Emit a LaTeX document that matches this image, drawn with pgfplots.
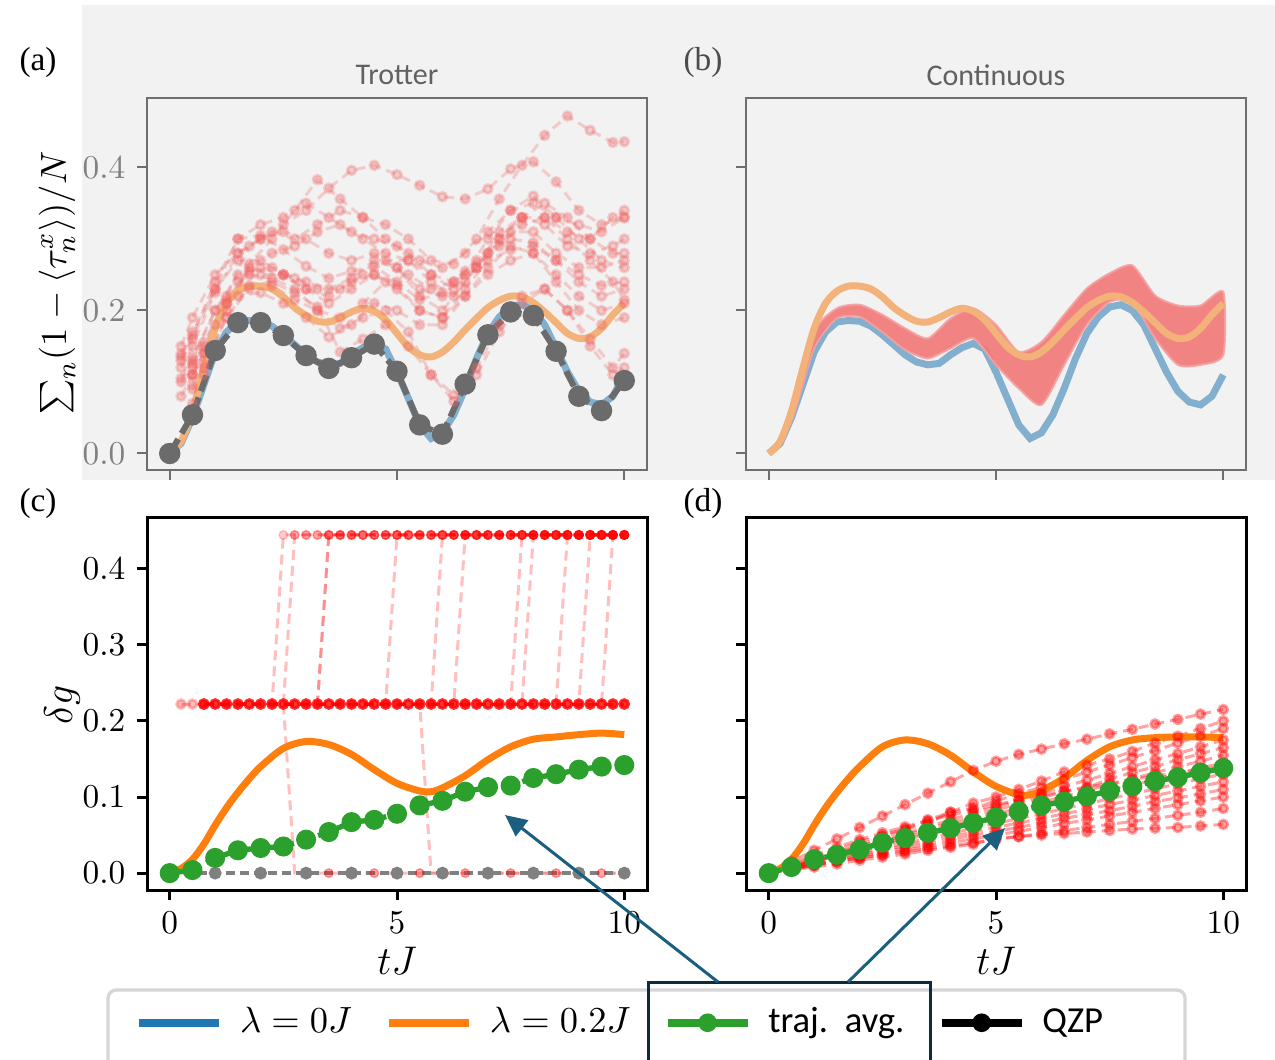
\documentclass[border=0pt]{standalone}
\usepackage{pgfplots}
\pgfplotsset{compat=1.18}
\usepackage{pgfplotstable}
\usepackage{fontspec}
\usetikzlibrary{arrows.meta}
\newfontfamily\carlito{Carlito}
\newfontfamily\lserif{Liberation Serif}

\definecolor{bgray}{HTML}{F2F2F2}
\definecolor{framegray}{HTML}{6E6E6E}
\definecolor{ticktxt}{HTML}{808080}
\definecolor{blueA}{HTML}{82AFCD}
\definecolor{orangeA}{HTML}{F3B27A}
\definecolor{pinkA}{HTML}{F06464}
\definecolor{bandred}{HTML}{F27878}
\definecolor{qzpA}{HTML}{6B6B6B}
\definecolor{mplblue}{HTML}{1F77B4}
\definecolor{mplorange}{HTML}{FF7F0E}
\definecolor{mplgreen}{HTML}{2CA02C}
\definecolor{qzpgray}{HTML}{808080}
\definecolor{arrowblue}{HTML}{1A5E80}
\definecolor{boxnavy}{HTML}{0D2B3E}
\definecolor{leggray}{HTML}{D6D6D6}

% lambda=0 and lambda=0.2 curves, top row
\pgfplotstableread{
x bl or
0 0 0
0.25 0.014 0.017
0.5 0.050 0.059
0.75 0.096 0.119
1 0.142 0.175
1.25 0.170 0.210
1.5 0.184 0.227
1.75 0.186 0.234
2 0.185 0.234
2.25 0.178 0.230
2.5 0.166 0.219
2.75 0.152 0.204
3 0.138 0.193
3.25 0.128 0.185
3.5 0.124 0.184
3.75 0.126 0.190
4 0.138 0.198
4.25 0.148 0.203
4.5 0.154 0.199
4.75 0.146 0.187
5 0.114 0.168
5.25 0.077 0.149
5.5 0.040 0.138
5.75 0.021 0.135
6 0.029 0.142
6.25 0.054 0.156
6.5 0.091 0.173
6.75 0.133 0.189
7 0.168 0.204
7.25 0.191 0.214
7.5 0.205 0.220
7.75 0.208 0.219
8 0.200 0.211
8.25 0.180 0.198
8.5 0.147 0.183
8.75 0.114 0.168
9 0.087 0.161
9.25 0.072 0.163
9.5 0.068 0.175
9.75 0.080 0.194
10 0.110 0.210
}\topcurves

% Trotter trajectories (odd ones sampled on x, even ones on xb)
\pgfplotstableread{
x xb t1 t2 t3 t4 t5 t6 t7 t8 t9 t10 t11 t12 t13 t14 t15
0.25 0.5 .139 .070 .150 .110 .130 .120 .100 .090 .080 .095 .120 .110 .105 .125 .135
0.5 0.75 .170 .110 .190 .140 .160 .150 .130 .120 .110 .125 .150 .140 .135 .155 .165
1 1.25 .230 .200 .250 .210 .230 .220 .200 .190 .180 .190 .225 .210 .200 .215 .240
1.5 1.75 .300 .265 .280 .250 .270 .290 .240 .230 .220 .235 .280 .260 .250 .255 .300
2 2.25 .305 .300 .300 .245 .270 .310 .250 .235 .225 .240 .300 .280 .260 .260 .320
2.5 2.75 .285 .340 .320 .230 .250 .300 .250 .215 .210 .225 .310 .290 .250 .245 .330
3 3.25 .262 .383 .340 .200 .230 .320 .240 .200 .190 .205 .300 .310 .230 .230 .350
3.5 3.75 .245 .356 .371 .175 .220 .340 .230 .190 .163 .142 .280 .320 .210 .230 .330
4 4.25 .255 .330 .396 .190 .240 .330 .245 .210 .180 .160 .270 .300 .230 .250 .310
4.5 4.75 .262 .320 .403 .200 .250 .300 .270 .240 .210 .180 .280 .280 .250 .270 .300
5 5.25 .240 .300 .390 .170 .235 .280 .260 .250 .200 .150 .260 .270 .230 .270 .290
5.5 5.75 .215 .270 .375 .110 .200 .250 .220 .230 .180 .110 .230 .240 .200 .250 .270
6 6.25 .225 .265 .359 .082 .190 .240 .200 .240 .180 .073 .220 .220 .190 .230 .260
6.5 6.75 .255 .300 .356 .120 .230 .270 .240 .260 .220 .110 .250 .260 .220 .260 .280
7 7.25 .280 .356 .370 .180 .270 .300 .280 .290 .250 .170 .300 .310 .260 .300 .310
7.5 7.75 .300 .403 .398 .220 .285 .330 .310 .320 .270 .210 .340 .330 .290 .330 .340
8 8.25 .295 .445 .408 .230 .290 .320 .310 .330 .280 .230 .360 .330 .280 .350 .350
8.5 8.75 .270 .472 .380 .200 .270 .290 .280 .300 .250 .200 .330 .310 .240 .330 .330
9 9.25 .250 .452 .340 .150 .240 .280 .260 .270 .220 .160 .300 .300 .200 .300 .320
9.5 9.75 .235 .435 .320 .110 .220 .290 .260 .240 .200 .120 .270 .330 .180 .280 .310
10 10 .240 .436 .330 .120 .230 .300 .270 .215 .210 .140 .260 .340 .190 .280 .330
}\trotter

% delta g levels, panel (c)
\pgfplotstableread{
x lo hi zr
0.25 0.2222 0.4444 0
0.5 0.2222 0.4444 0
0.75 0.2222 0.4444 0
1 0.2222 0.4444 0
1.25 0.2222 0.4444 0
1.5 0.2222 0.4444 0
1.75 0.2222 0.4444 0
2 0.2222 0.4444 0
2.25 0.2222 0.4444 0
2.5 0.2222 0.4444 0
2.75 0.2222 0.4444 0
3 0.2222 0.4444 0
3.25 0.2222 0.4444 0
3.5 0.2222 0.4444 0
3.75 0.2222 0.4444 0
4 0.2222 0.4444 0
4.25 0.2222 0.4444 0
4.5 0.2222 0.4444 0
4.75 0.2222 0.4444 0
5 0.2222 0.4444 0
5.25 0.2222 0.4444 0
5.5 0.2222 0.4444 0
5.75 0.2222 0.4444 0
6 0.2222 0.4444 0
6.25 0.2222 0.4444 0
6.5 0.2222 0.4444 0
6.75 0.2222 0.4444 0
7 0.2222 0.4444 0
7.25 0.2222 0.4444 0
7.5 0.2222 0.4444 0
7.75 0.2222 0.4444 0
8 0.2222 0.4444 0
8.25 0.2222 0.4444 0
8.5 0.2222 0.4444 0
8.75 0.2222 0.4444 0
9 0.2222 0.4444 0
9.25 0.2222 0.4444 0
9.5 0.2222 0.4444 0
9.75 0.2222 0.4444 0
10 0.2222 0.4444 0
}\levels

% continuous trajectories, panel (d)
\pgfplotstableread{
x d1 d2 d3 d4 d5 d6 d7 d8 d9 d10 d11 d12 d13 d14
0 0 0 0 0 0 0 0 0 0 0 0 0 0 0
0.5 .015 .010 .008 .009 .008 .008 .007 .012 .007 .006 .005 .005 .006 .004
1 .030 .021 .018 .017 .016 .016 .015 .024 .013 .012 .011 .010 .011 .008
1.5 .045 .030 .027 .026 .025 .023 .022 .034 .020 .018 .016 .015 .016 .012
2 .060 .041 .036 .035 .033 .031 .029 .044 .026 .024 .022 .020 .020 .017
2.5 .075 .050 .048 .044 .041 .039 .036 .053 .033 .030 .028 .025 .024 .021
3 .090 .058 .057 .052 .050 .047 .044 .061 .039 .036 .033 .030 .028 .025
3.5 .105 .070 .066 .061 .058 .054 .051 .069 .046 .042 .038 .035 .032 .030
4 .120 .080 .080 .070 .066 .062 .058 .076 .052 .048 .044 .040 .036 .034
4.5 .135 .092 .085 .079 .074 .070 .065 .083 .059 .054 .050 .045 .040 .038
5 .147 .100 .095 .087 .083 .078 .073 .090 .065 .060 .055 .050 .044 .046
5.5 .156 .110 .104 .096 .091 .085 .080 .096 .072 .066 .060 .055 .048 .048
6 .163 .121 .113 .105 .099 .093 .087 .102 .078 .072 .066 .060 .052 .050
6.5 .170 .133 .123 .114 .107 .101 .094 .108 .085 .078 .072 .065 .056 .052
7 .176 .142 .133 .122 .112 .109 .102 .113 .091 .084 .077 .070 .060 .054
7.5 .183 .150 .142 .131 .124 .116 .109 .118 .098 .090 .082 .075 .064 .056
8 .189 .160 .152 .140 .132 .124 .116 .123 .104 .096 .088 .080 .068 .058
8.5 .196 .171 .161 .149 .140 .132 .123 .128 .111 .102 .094 .085 .072 .059
9 .202 .180 .171 .157 .149 .140 .131 .132 .117 .108 .099 .090 .076 .060
9.5 .209 .190 .180 .166 .157 .147 .138 .136 .124 .114 .104 .095 .080 .062
10 .215 .200 .190 .175 .165 .155 .145 .140 .130 .120 .110 .100 .085 .064
}\contin

\pgfplotsset{
  panel/.style={scale only axis, width=150pt, height=111.6pt,
    xmin=-0.5, xmax=10.5, xtick={0,5,10},
    tick align=outside, tick pos=left, major tick length=3pt,
    ticklabel style={font=\fontsize{9.8}{11}\selectfont},
    yticklabel style={/pgf/number format/fixed,
      /pgf/number format/fixed zerofill, /pgf/number format/precision=1}},
  toppanel/.style={panel, ymin=-0.0231, ymax=0.4972, ytick={0,0.2,0.4},
    axis background/.style={fill=bgray},
    axis line style={framegray, line width=0.6pt},
    tick style={framegray, line width=0.6pt},
    ticklabel style={text=ticktxt}, xticklabels={}},
  botpanel/.style={panel, ymin=-0.0222, ymax=0.4667,
    ytick={0,0.1,0.2,0.3,0.4},
    axis line style={black, line width=0.9pt},
    tick style={black, line width=0.9pt}},
  traj/.style={pinkA, opacity=0.28, line width=0.9pt,
    dash pattern=on 3pt off 1.8pt, mark=*, mark size=1.3pt,
    mark options={solid}},
  jumpline/.style={red, opacity=0.25, line width=0.9pt,
    dash pattern=on 3pt off 1.8pt},
  jumpmarks/.style={red, opacity=0.2, only marks, mark=*, mark size=1.3pt},
  dtraj/.style={red, opacity=0.36, line width=0.9pt,
    dash pattern=on 3pt off 1.8pt, mark=*, mark size=1.3pt,
    mark options={solid}},
}

\newcommand{\jumpup}[2]{%
  \addplot[jumpline] coordinates {(0.75,0.2222) (#1,0.2222) (#2,0.4444) (10,0.4444)};
  \addplot[jumpmarks] table[x=x, y=hi, restrict x to domain=#2:10] {\levels};
}

\begin{document}
\begin{tikzpicture}
\useasboundingbox (0pt,0pt) rectangle (382.5pt,-318pt);
\begin{scope}[x=0.3pt, y=-0.3pt]
  \fill[bgray] (82,5) rectangle (1275,480);
\end{scope}

% (a) Trotter
\begin{axis}[toppanel, at={(44.1pt,-141pt)}, anchor=south west]
  \pgfplotsinvokeforeach{1,3,...,15}{
    \addplot[traj] table[x=x, y=t#1] {\trotter};
  }
  \pgfplotsinvokeforeach{2,4,...,14}{
    \addplot[traj] table[x=xb, y=t#1] {\trotter};
  }
  \addplot[blueA, line width=2.1pt] table[x=x, y=bl] {\topcurves};
  \addplot[orangeA, line width=2.1pt, smooth] table[x=x, y=or] {\topcurves};
  \addplot[qzpA, line width=1.8pt, dash pattern=on 5pt off 2pt, mark=*,
    mark size=2.3pt, mark options={solid}] coordinates {
    (0,0) (0.5,0.054) (1,0.144) (1.5,0.183) (2,0.183) (2.5,0.165)
    (3,0.137) (3.5,0.119) (4,0.134) (4.5,0.153) (5,0.115) (5.5,0.040)
    (6,0.027) (6.5,0.097) (7,0.166) (7.5,0.198) (8,0.193) (8.5,0.143)
    (9,0.080) (9.5,0.060) (10,0.102)};
\end{axis}

% (b) Continuous
\begin{axis}[toppanel, at={(223.8pt,-141pt)}, anchor=south west, yticklabels={}]
  \addplot[blueA, line width=2.1pt] table[x=x, y=bl] {\topcurves};
  \addplot[fill=bandred, draw=bandred!70, line width=0.6pt, opacity=0.9,
    smooth, tension=0.4] coordinates {
    (0,0) (0.5,0.050) (1,0.170) (1.5,0.203) (2,0.208) (2.5,0.194) (3,0.175)
    (3.5,0.161) (4,0.189) (4.5,0.203) (5,0.180) (5.5,0.142) (6,0.156)
    (6.5,0.194) (7,0.231) (7.5,0.252) (8,0.263) (8.5,0.221) (9,0.207)
    (9.5,0.207) (10,0.226)
    (10,0.138) (9.5,0.124) (9,0.124) (8.5,0.161) (8,0.212) (7.5,0.212)
    (7,0.180) (6.5,0.124) (6,0.068) (5.5,0.091) (5,0.124) (4.5,0.161)
    (4,0.147) (3.5,0.133) (3,0.145) (2.5,0.170) (2,0.191) (1.5,0.189)
    (1,0.147) (0.5,0.045) (0,0)} -- cycle;
  \addplot[orangeA, line width=2.1pt, smooth] table[x=x, y=or] {\topcurves};
\end{axis}

% (c) delta g, Trotter
\begin{axis}[botpanel, at={(44.1pt,-267pt)}, anchor=south west]
  \jumpup{2.25}{2.5}
  \jumpup{2.5}{2.75}
  \jumpup{3.25}{3.5}
  \jumpup{3.25}{3.5}
  \jumpup{4.75}{5}
  \jumpup{5.75}{6}
  \jumpup{6.25}{6.5}
  \jumpup{7.5}{7.75}
  \jumpup{7.75}{8}
  \jumpup{8.5}{8.75}
  \jumpup{9}{9.25}
  \jumpup{9.5}{9.75}
  \addplot[jumpline] coordinates {(0.75,0.2222) (2.5,0.2222) (2.75,0) (10,0)};
  \addplot[jumpline] coordinates {(0.75,0.2222) (5.5,0.2222) (5.75,0) (10,0)};
  \addplot[jumpmarks, opacity=0.35] coordinates {
    (3.5,0) (4.5,0) (5.5,0) (6.5,0) (7.5,0) (8.5,0) (9.5,0)};
  \addplot[red, opacity=0.25, line width=0.9pt, dash pattern=on 3pt off 1.8pt,
    mark=*, mark size=1.3pt, mark options={solid}]
    table[x=x, y=lo, restrict x to domain=0.25:0.75] {\levels};
  \addplot[red, opacity=0.8, line width=0.9pt, dash pattern=on 3pt off 1.8pt,
    mark=*, mark size=1.3pt, mark options={solid}]
    table[x=x, y=lo, restrict x to domain=0.75:10] {\levels};
  \addplot[qzpgray, line width=1.2pt, dash pattern=on 2.8pt off 1.4pt, mark=*,
    mark size=1.3pt, mark options={solid}] coordinates {
    (0,0) (1,0) (2,0) (3,0) (4,0) (5,0) (6,0) (7,0) (8,0) (9,0) (10,0)};
  \addplot[mplorange, line width=2.1pt, smooth] coordinates {
    (0,0) (0.25,0.006) (0.5,0.018) (0.75,0.038) (1,0.063) (1.25,0.086)
    (1.5,0.106) (1.75,0.124) (2,0.140) (2.5,0.164) (3,0.173) (3.5,0.169)
    (4,0.156) (4.5,0.136) (5,0.118) (5.5,0.108) (5.75,0.107) (6,0.112)
    (6.5,0.128) (7,0.149) (7.5,0.166) (8,0.176) (8.5,0.179) (9,0.182)
    (9.5,0.184) (10,0.182)};
  \addplot[mplgreen, line width=1.6pt, dash pattern=on 4pt off 1.8pt, mark=*,
    mark size=2.2pt, mark options={solid}] coordinates {
    (0,0) (0.5,0.004) (1,0.020) (1.5,0.030) (2,0.033) (2.5,0.035) (3,0.044)
    (3.5,0.054) (4,0.067) (4.5,0.070) (5,0.078) (5.5,0.089) (6,0.095)
    (6.5,0.107) (7,0.113) (7.5,0.115) (8,0.125) (8.5,0.130) (9,0.136)
    (9.5,0.140) (10,0.142)};
\end{axis}

% (d) delta g, continuous
\begin{axis}[botpanel, at={(223.8pt,-267pt)}, anchor=south west, yticklabels={}]
  \pgfplotsinvokeforeach{1,...,14}{
    \addplot[dtraj] table[x=x, y=d#1] {\contin};
  }
  \addplot[mplorange, line width=2.1pt, smooth] coordinates {
    (0,0) (0.25,0.006) (0.5,0.018) (0.75,0.038) (1,0.063) (1.25,0.086)
    (1.5,0.106) (1.75,0.124) (2,0.140) (2.5,0.166) (3,0.175) (3.5,0.170)
    (4,0.155) (4.5,0.133) (5,0.114) (5.5,0.103) (5.75,0.103) (6,0.108)
    (6.5,0.125) (7,0.148) (7.5,0.166) (8,0.175) (8.5,0.178) (9,0.179)
    (9.5,0.179) (10,0.178)};
  \addplot[mplgreen, line width=1.6pt, dash pattern=on 4pt off 1.8pt, mark=*,
    mark size=2.2pt, mark options={solid}] coordinates {
    (0,0) (0.5,0.008) (1,0.018) (1.5,0.024) (2,0.031) (2.5,0.040) (3,0.046)
    (3.5,0.053) (4,0.059) (4.5,0.066) (5,0.073) (5.5,0.081) (6,0.089)
    (6.5,0.094) (7,0.101) (7.5,0.108) (8,0.114) (8.5,0.121) (9,0.126)
    (9.5,0.132) (10,0.138)};
\end{axis}

% legend frame (runs past the bottom edge, as in the figure)
\begin{scope}[x=0.3pt, y=-0.3pt]
  \draw[leggray, line width=1pt, fill=white, rounded corners=2.5pt]
    (108,990) rectangle (1185,1090);
\end{scope}

% legend
\begin{axis}[at={(44.1pt,-267pt)}, anchor=south west, scale only axis,
  width=150pt, height=111.6pt, hide axis, xmin=0, xmax=1, ymin=0, ymax=1,
  legend columns=4,
  legend style={at={(-0.078,-0.2695)}, anchor=north west, draw=none,
    fill=none, inner xsep=8pt, inner ysep=3pt,
    font=\fontsize{11}{13}\selectfont,
    /tikz/every odd column/.append style={column sep=3pt},
    /tikz/every even column/.append style={column sep=8pt}},
  legend image code/.code={\draw[mark repeat=2, mark phase=2, #1]
    plot coordinates {(0pt,0pt) (12pt,0pt) (24pt,0pt)};}]
  \addlegendimage{mplblue, line width=2.4pt}
  \addlegendentry{$\lambda=0J$}
  \addlegendimage{mplorange, line width=2.4pt}
  \addlegendentry{$\lambda=0.2J$}
  \addlegendimage{mplgreen, line width=2.4pt, mark=*, mark size=2.6pt,
    mark options={line width=0.4pt}}
  \addlegendentry{{\carlito traj.\ \ avg.}}
  \addlegendimage{black, line width=2.4pt, mark=*, mark size=2.6pt,
    mark options={line width=0.4pt}}
  \addlegendentry{{\carlito QZP}}
\end{axis}

\begin{scope}[x=0.3pt, y=-0.3pt]
  \node[font=\lserif\fontsize{10}{12}\selectfont] at (38,62) {(a)};
  \node[font=\lserif\fontsize{10}{12}\selectfont, text=black!70] at (703,62) {(b)};
  \node[font=\lserif\fontsize{10}{12}\selectfont] at (38,503) {(c)};
  \node[font=\lserif\fontsize{10}{12}\selectfont] at (703,503) {(d)};
  \node[font=\carlito\fontsize{9}{11}\selectfont, text=black!62] at (397,75) {Trotter};
  \node[font=\carlito\fontsize{9}{11}\selectfont, text=black!62] at (996,75) {Continuous};
  \node[rotate=90, font=\fontsize{11}{13}\selectfont] at (57,283)
    {$\sum_n(1-\langle\tau_n^x\rangle)/N$};
  \node[rotate=90, font=\fontsize{12}{14}\selectfont] at (62,705) {$\delta g$};
  \node[font=\fontsize{12}{14}\selectfont] at (397,961) {$tJ$};
  \node[font=\fontsize{12}{14}\selectfont] at (996,961) {$tJ$};
  \draw[boxnavy, line width=0.9pt] (648,1080) -- (648,982) -- (930,982) -- (930,1080);
  \draw[arrowblue, line width=0.9pt, -{Triangle[length=6.5pt, width=6pt]}]
    (718,982) -- (505,815);
  \draw[arrowblue, line width=0.9pt, -{Triangle[length=6.5pt, width=6pt]}]
    (848,982) -- (1005,828);
\end{scope}
\end{tikzpicture}
\end{document}
